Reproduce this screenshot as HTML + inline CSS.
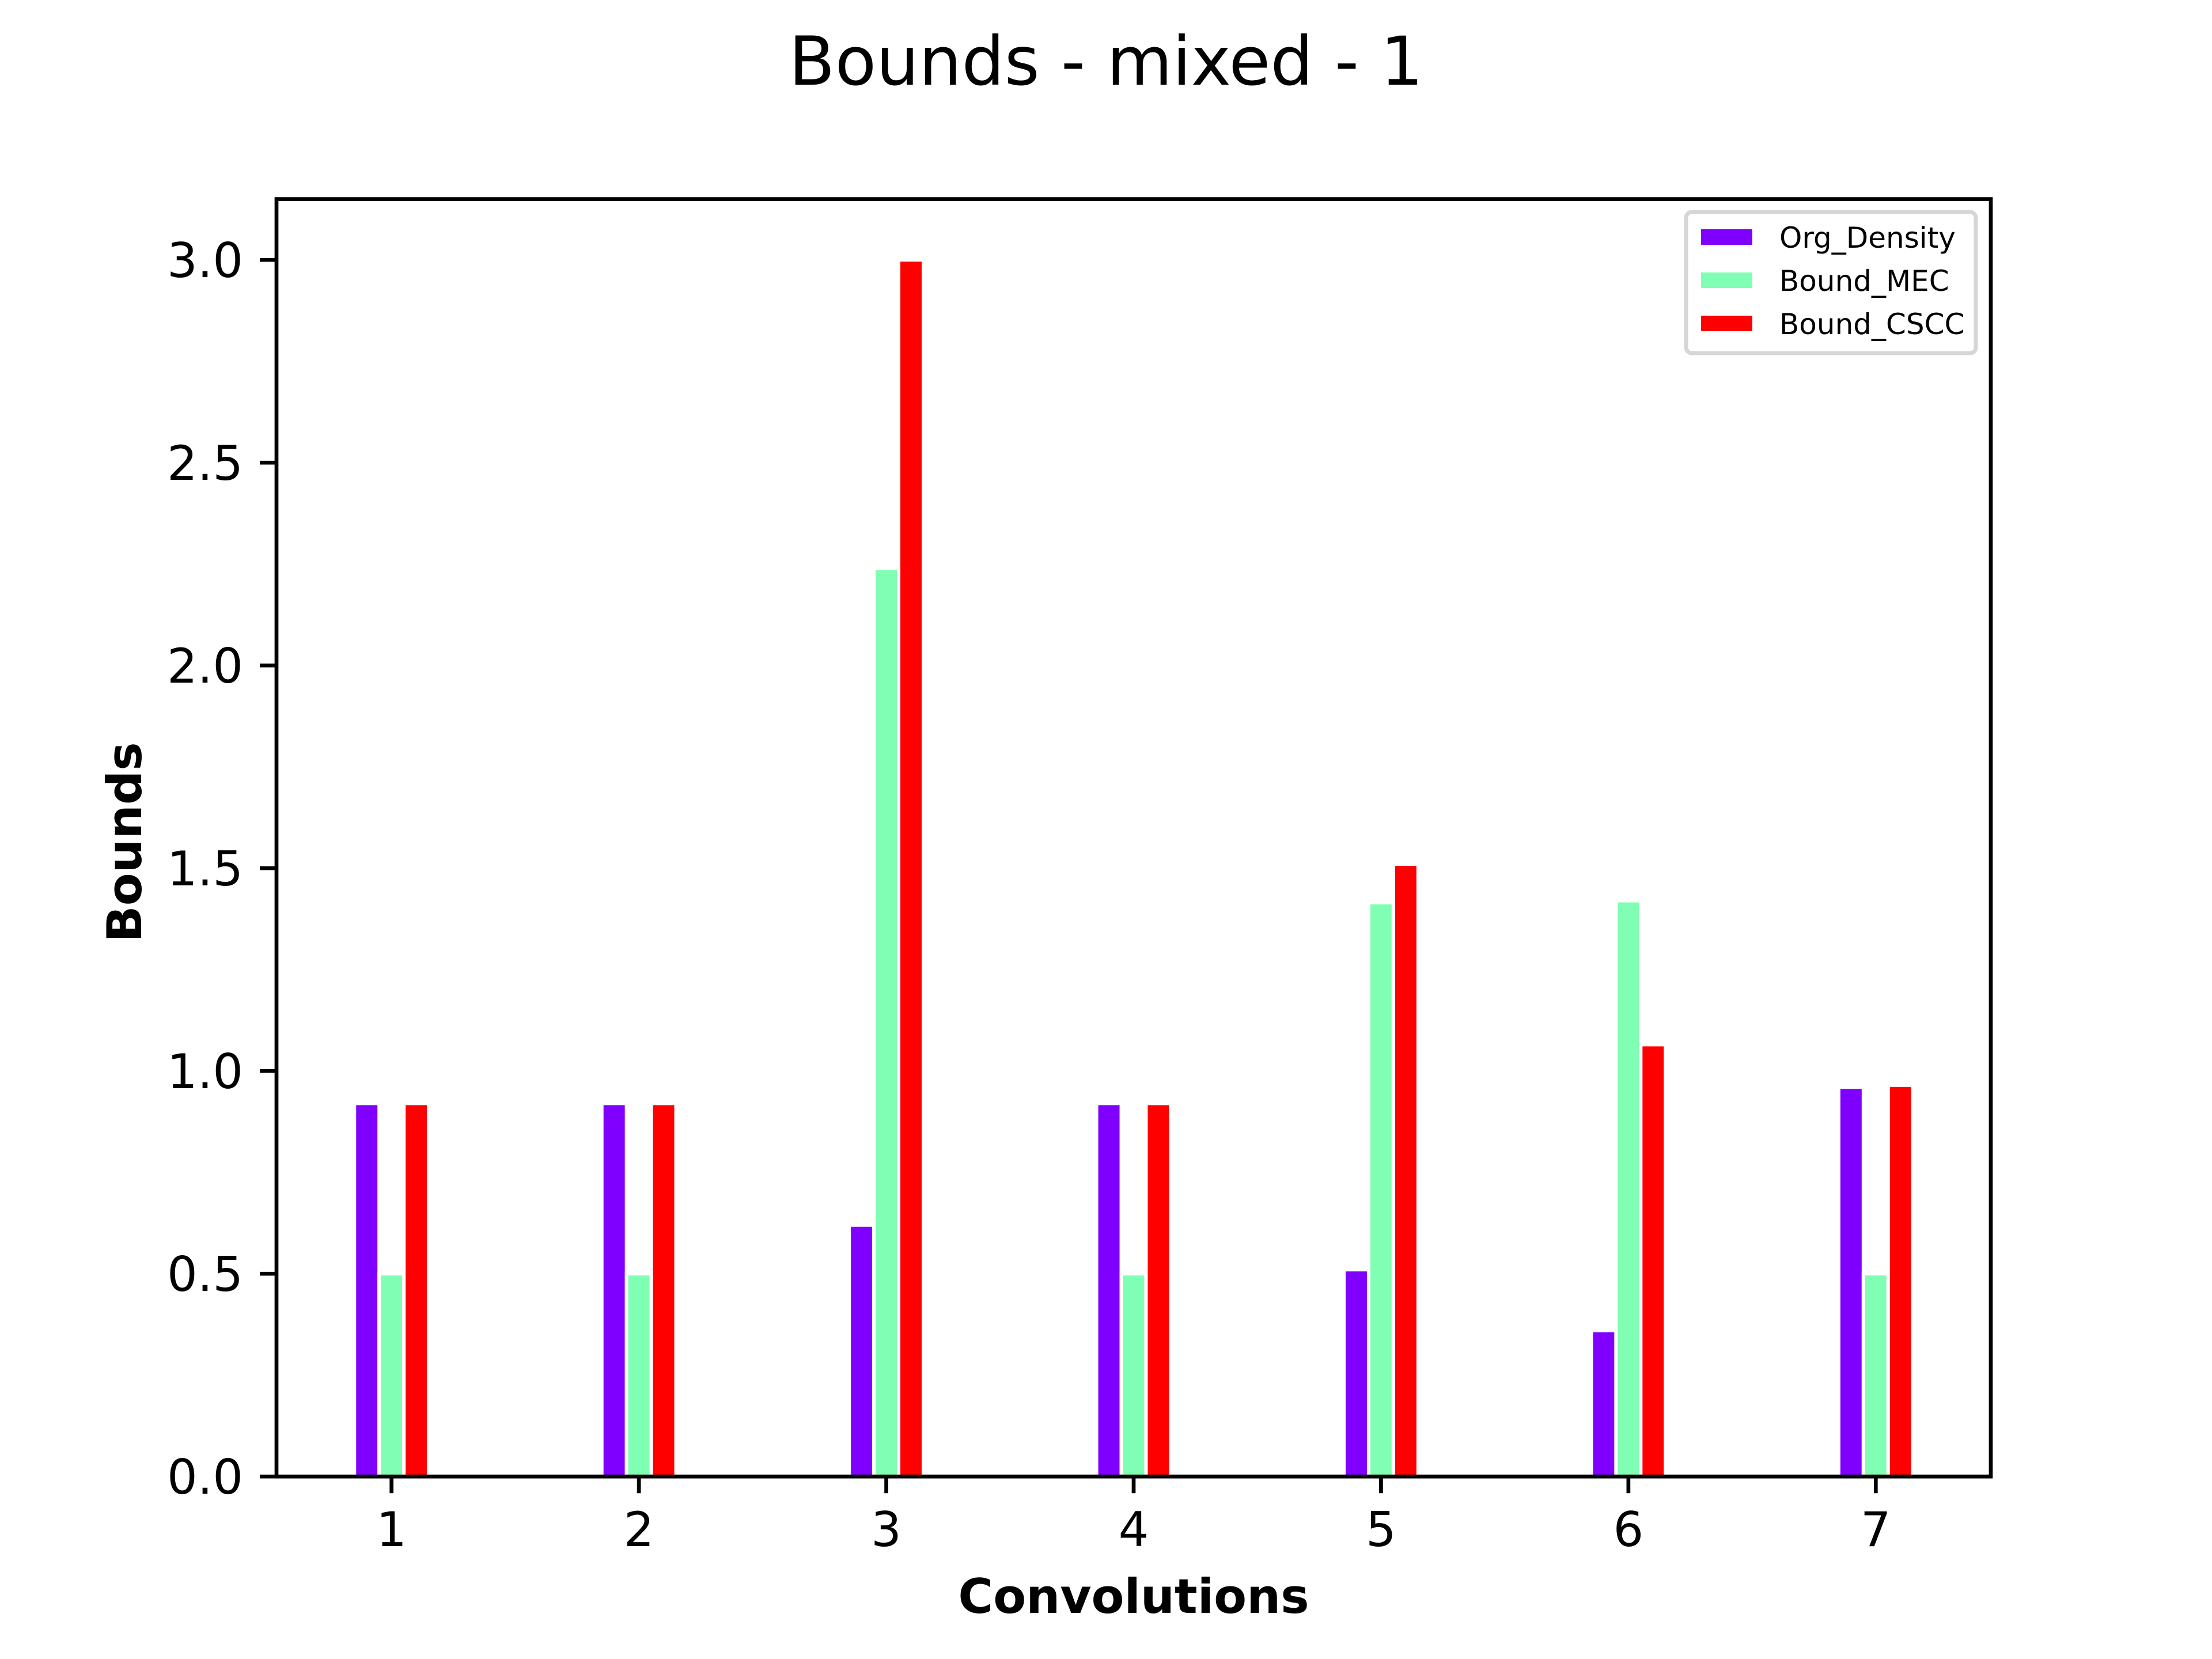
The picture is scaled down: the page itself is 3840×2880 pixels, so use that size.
<!DOCTYPE html>
<html><head><meta charset="utf-8"><style>
html,body{margin:0;padding:0;background:#fff}
svg{display:block}
text{font-family:"DejaVu Sans","Liberation Sans",sans-serif;fill:#000}
</style></head><body>
<svg id="chart" width="3840" height="2880" viewBox="0 0 3840 2880" xmlns="http://www.w3.org/2000/svg">
<rect width="3840" height="2880" fill="#fff"/>
<text x="1920" y="147" font-size="117" text-anchor="middle">Bounds - mixed - 1</text>
<g id="bars"></g>
<g id="axes"></g>
<rect x="480" y="345.6" width="2976" height="2217.6" fill="none" stroke="#000" stroke-width="6.7"/>
<text x="1968" y="2800" font-size="83" font-weight="bold" text-anchor="middle">Convolutions</text>
<text transform="translate(245,1462) rotate(-90)" x="0" y="0" font-size="83" font-weight="bold" text-anchor="middle">Bounds</text>
<g>
<rect x="2927" y="368" width="503" height="245" rx="10" fill="#fff" stroke="#d6d6d6" stroke-width="7"/>
<rect x="2953" y="398" width="89" height="27" fill="#8000ff"/>
<text x="3089" y="430" font-size="50">Org_Density</text>
<rect x="2953" y="473" width="89" height="27" fill="#80ffb4"/>
<text x="3089" y="505" font-size="50">Bound_MEC</text>
<rect x="2953" y="548" width="89" height="27" fill="#ff0000"/>
<text x="3089" y="580" font-size="50">Bound_CSCC</text>
</g>
</svg>
<script>
const categories = [1, 2, 3, 4, 5, 6, 7];
const orgDensity = [0.92, 0.92, 0.62, 0.92, 0.51, 0.36, 0.96];
const boundMEC = [0.50, 0.50, 2.24, 0.50, 1.415, 1.42, 0.50];
const boundCSCC = [0.92, 0.92, 3.00, 0.92, 1.51, 1.065, 0.965];
const yTicks = [0, 0.5, 1.0, 1.5, 2.0, 2.5, 3.0];
const yTickLabels = ["0.0", "0.5", "1.0", "1.5", "2.0", "2.5", "3.0"];

const NS = "http://www.w3.org/2000/svg";
const L = 480, R = 3456, T = 345.6, B = 2563.2;
const xMin = 0.535, xMax = 7.465, yMin = 0, yMax = 3.15;
function xs(v) { return L + (v - xMin) / (xMax - xMin) * (R - L); }
function ys(v) { return B - (v - yMin) / (yMax - yMin) * (B - T); }

const barsG = document.getElementById('bars');
const series = [
  { vals: orgDensity, color: '#8000ff', off: -0.1, name: 'org-density' },
  { vals: boundMEC, color: '#80ffb4', off: 0, name: 'bound-mec' },
  { vals: boundCSCC, color: '#ff0000', off: 0.1, name: 'bound-cscc' }
];
const bw = 0.1;
series.forEach(s => {
  s.vals.forEach((v, i) => {
    const x0 = xs(categories[i] + s.off - bw / 2), x1 = xs(categories[i] + s.off + bw / 2);
    const r = document.createElementNS(NS, 'rect');
    r.setAttribute('x', x0);
    r.setAttribute('y', ys(v));
    r.setAttribute('width', x1 - x0);
    r.setAttribute('height', ys(0) - ys(v));
    r.setAttribute('fill', s.color);
    r.setAttribute('stroke', '#fff');
    r.setAttribute('stroke-width', '6');
    
    
    barsG.appendChild(r);
  });
});

const axesG = document.getElementById('axes');
categories.forEach(c => {
  const x = xs(c);
  const t = document.createElementNS(NS, 'line');
  t.setAttribute('x1', x); t.setAttribute('x2', x);
  t.setAttribute('y1', B); t.setAttribute('y2', B + 29);
  t.setAttribute('stroke', '#000'); t.setAttribute('stroke-width', '6.7');
  
  
  axesG.appendChild(t);
  const tx = document.createElementNS(NS, 'text');
  tx.setAttribute('x', x); tx.setAttribute('y', B + 29 + 29 + 63);
  tx.setAttribute('font-size', '83'); tx.setAttribute('text-anchor', 'middle');
  tx.textContent = String(c);
  
  
  axesG.appendChild(tx);
});
yTicks.forEach((v, i) => {
  const y = ys(v);
  const t = document.createElementNS(NS, 'line');
  t.setAttribute('x1', L - 29); t.setAttribute('x2', L);
  t.setAttribute('y1', y); t.setAttribute('y2', y);
  t.setAttribute('stroke', '#000'); t.setAttribute('stroke-width', '6.7');
  
  
  axesG.appendChild(t);
  const tx = document.createElementNS(NS, 'text');
  tx.setAttribute('x', L - 29 - 29); tx.setAttribute('y', y + 30);
  tx.setAttribute('font-size', '83'); tx.setAttribute('text-anchor', 'end');
  tx.textContent = yTickLabels[i];
  
  
  axesG.appendChild(tx);
});
</script>
</body></html>
